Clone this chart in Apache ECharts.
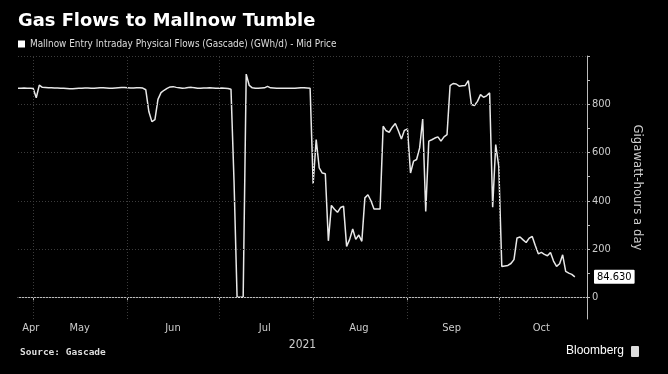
<!DOCTYPE html>
<html><head><meta charset="utf-8">
<script src="https://cdn.jsdelivr.net/npm/echarts@6/dist/echarts.min.js"></script>
<style>html,body{margin:0;padding:0;background:#000}#c{width:668px;height:374px}</style>
</head><body><div id="c"></div>
<script>
// ---- data ----
const startDate = '2021-04-26'; // first daily observation
const flows = [
 866,866,867,866,866,865,827,879,870,869,
 868,868,867,867,866,866,865,864,864,865,
 866,866,867,867,866,866,867,868,868,867,
 866,866,867,868,869,869,868,867,867,868,
 868,867,860,770,728,736,820,848,858,866,
 872,873,870,868,866,867,869,870,868,866,
 866,867,867,868,867,866,866,867,866,865,
 862,480,0,0,0,925,878,868,866,866,
 867,868,874,868,867,866,866,866,866,866,
 866,866,867,868,868,867,866,471,654,536,
 515,512,234,381,365,352,372,377,211,240,
 283,240,258,232,412,425,400,366,366,366,
 709,690,684,705,720,690,656,692,698,515,
 564,571,619,739,356,647,653,660,665,647,
 665,674,877,886,884,875,877,878,898,799,
 795,812,840,829,835,847,373,633,543,128,
 130,132,140,156,246,250,238,227,245,252,
 215,180,186,178,172,186,150,128,139,176,
 107,100,95,84.63
];
const seriesName = 'Mallnow Entry Intraday Physical Flows (Gascade) (GWh/d) - Mid Price';
const monthStarts = ['2021-05-01','2021-06-01','2021-07-01','2021-08-01','2021-09-01','2021-10-01'];
const monthLabelDates = ['2021-04-30T05:00','2021-05-16T07:00','2021-06-15T22:00','2021-07-16T02:00','2021-08-16T00:00','2021-09-15T12:00','2021-10-15T00:00'];
const monthNames = ['Jan','Feb','Mar','Apr','May','Jun','Jul','Aug','Sep','Oct','Nov','Dec'];
const yTickValues = [0,100,200,300,400,500,600,700,800,900,1000];
const yLabelValues = [0,200,400,600,800];
const yGridValues = [0,200,400,600,800,1000];
const xMin = '2021-04-26', xMax = '2021-10-30';
const yMin = -90, yMax = 1000;
const yearLabel = '2021';
const yAxisName = 'Gigawatt-hours a day';
const lastLabel = '84.630';

// ---- build ----
const ts = s => Date.parse(s + (s.length === 10 ? 'T00:00:00Z' : ':00Z'));
const DAY = 86400000;
const t0 = ts(startDate);
const seriesData = flows.map((v, i) => [t0 + i * DAY, v]);

const gridStyle = { type: [1, 2], color: '#3c3c3c', width: 1 };
const markData = yGridValues.map(v => ({ yAxis: v, lineStyle: gridStyle }))
  .concat(monthStarts.map(d => ({ xAxis: ts(d), lineStyle: gridStyle })));

const chart = echarts.init(document.getElementById('c'));
chart.setOption({
  backgroundColor: '#000',
  animation: false,
  title: { text: 'Gas Flows to Mallnow Tumble', left: 18, top: 12, padding: 0,
    textStyle: { color: '#fff', fontSize: 17.9, fontWeight: 'bold', fontFamily: 'DejaVu Sans' } },
  legend: { left: 18, top: 39, padding: 0, icon: 'rect', itemWidth: 7, itemHeight: 7, itemGap: 0,
    data: [{ name: seriesName, itemStyle: { color: '#fff' } }],
    textStyle: { color: '#ddd', fontSize: 9.9, fontFamily: 'DejaVu Sans Condensed' } },
  grid: { left: 18, right: 81, top: 56, bottom: 55 },
  xAxis: {
    type: 'value', min: ts(xMin), max: ts(xMax),
    axisLine: { lineStyle: { color: '#bbb', width: 1 } },
    axisTick: { show: true, length: 4, customValues: monthStarts.map(ts), lineStyle: { color: '#bbb' } },
    axisLabel: { customValues: monthLabelDates.map(ts), margin: 4, color: '#ccc', fontSize: 11,
      fontFamily: 'DejaVu Sans Condensed',
      formatter: v => monthNames[new Date(v).getUTCMonth()] },
    splitLine: { show: false },
    name: yearLabel, nameLocation: 'middle', nameGap: 14,
    nameTextStyle: { color: '#ccc', fontSize: 12, fontFamily: 'DejaVu Sans Condensed' }
  },
  yAxis: {
    type: 'value', position: 'right', min: yMin, max: yMax,
    axisLine: { show: true, lineStyle: { color: '#bbb', width: 1 } },
    axisTick: { show: true, length: 3, customValues: yTickValues, lineStyle: { color: '#bbb' } },
    axisLabel: { customValues: yLabelValues, margin: 5, color: '#ccc', fontSize: 11,
      fontFamily: 'DejaVu Sans Condensed' },
    splitLine: { show: false },
    name: yAxisName, nameLocation: 'middle', nameRotate: -90, nameGap: 44,
    nameTextStyle: { color: '#ccc', fontSize: 13, fontFamily: 'DejaVu Sans Condensed' }
  },
  series: [{
    name: seriesName, type: 'line', data: seriesData, showSymbol: false, symbol: 'none',
    lineStyle: { color: '#e8e8e8', width: 1.5 }, itemStyle: { color: '#fff' },
    markLine: { silent: true, symbol: 'none', label: { show: false }, data: markData, animation: false },
    z: 3
  }, {
    name: 'last', type: 'line', data: [], silent: true,
    markLine: { silent: true, symbol: 'none', animation: false,
      lineStyle: { color: 'rgba(0,0,0,0)', width: 0 },
      label: { show: true, position: 'end', distance: 7, formatter: lastLabel,
        backgroundColor: '#fff', color: '#000', padding: [2, 3, 1, 3], borderRadius: 1,
        fontSize: 11, fontFamily: 'DejaVu Sans Condensed' },
      data: [{ yAxis: flows[flows.length - 1] }] }
  }],
  graphic: [
    { type: 'text', left: 20, top: 348, style: { text: 'Source: Gascade', fill: '#ddd',
      font: 'bold 9.5px "DejaVu Sans Mono"' } },
    { type: 'text', left: 566, top: 345, style: { text: 'Bloomberg', fill: '#fff',
      font: '12px "Liberation Sans"' } },
    { type: 'rect', left: 631, top: 346, shape: { width: 8, height: 11, r: 1 }, style: { fill: '#ddd' } }
  ]
});
</script></body></html>
